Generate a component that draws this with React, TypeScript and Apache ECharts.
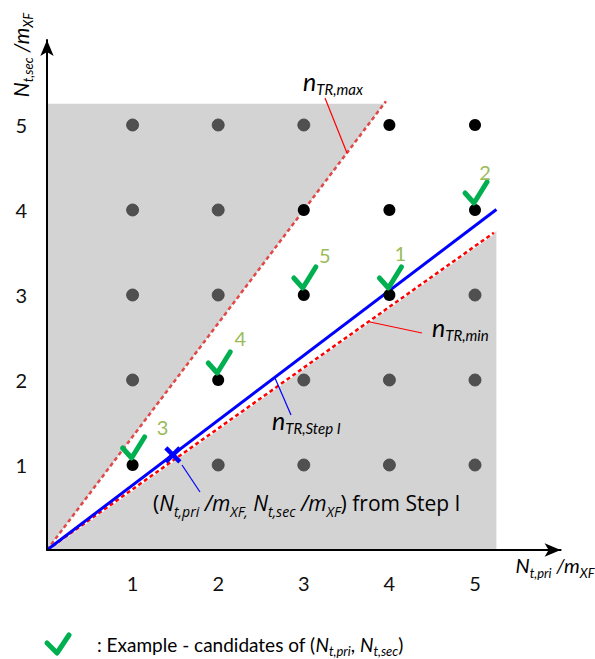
import React, { useEffect, useRef } from "react";
import * as echarts from "echarts";

// ---------- data ----------
const tickValues = [1, 2, 3, 4, 5];
const blackDots = [[1, 1], [2, 2], [3, 3], [4, 3], [3, 4], [4, 4], [5, 4], [4, 5], [5, 5]];
const grayDots = [
  [1, 2], [1, 3], [1, 4], [1, 5], [2, 1], [2, 3], [2, 4], [2, 5],
  [3, 1], [3, 2], [3, 5], [4, 1], [4, 2], [5, 1], [5, 2], [5, 3],
];
const candidateDots = [[4, 3], [5, 4], [1, 1], [2, 2], [3, 3]];
const candidateLabels = ["1", "2", "3", "4", "5"];
const regionLimit = 5.25;
const nTRmax = 4 / 3;
const nTRmin = 0.715;
const nTRstep = 0.763;
const stepIPoint = [1.47, 1.12];

// ---------- layout / style ----------
const FONT = "Lato";
const FONT2 = "Open Sans";
const RED = "#ff0000";
const BLUE = "#0000ff";
const GREEN = "#00b050";
const OLIVE = "#9bbb59";
const checkLabelOffsets = [[11, -42], [10, -38], [30, -38], [22, -42], [21, -40]];

const richFor = (color: string, big: number, small: number, family = FONT, lh = 26, sh = 10) => ({
  b: { fontSize: big, fontStyle: "italic", color, fontFamily: family, lineHeight: lh },
  s: { fontSize: small, fontStyle: "italic", color, fontFamily: family, verticalAlign: "bottom", height: sh },
  r: { fontSize: big, color, fontFamily: family, lineHeight: lh },
});

export default function App() {
  const ref = useRef<HTMLDivElement>(null);
  useEffect(() => {
    if (!ref.current) return;
    const chart = echarts.init(ref.current, undefined, { renderer: "svg" });
    const axisCommon = {
      type: "value" as const,
      min: 0,
      max: 6,
      interval: 1,
      z: 10,
      splitLine: { show: false },
      axisTick: { show: false },
      axisLine: {
        show: true,
        symbol: ["none", "arrow"],
        symbolSize: [10, 16],
        lineStyle: { color: "#000", width: 2 },
      },
    };
    const fmt = (v: number) => (tickValues.indexOf(v) >= 0 ? String(v) : "");
    chart.setOption({
      animation: false,
      grid: { left: 47, top: 40, width: 513.6, height: 510 },
      xAxis: {
        ...axisCommon,
        axisLabel: { formatter: fmt, fontSize: 20, color: "#111", fontFamily: FONT, margin: 23 },
      },
      yAxis: {
        ...axisCommon,
        axisLabel: { formatter: fmt, fontSize: 20, color: "#111", fontFamily: FONT, margin: 20 },
      },
      series: [
        {
          type: "custom",
          silent: true,
          z: 1,
          data: [[0, 0]],
          renderItem: (_p: any, api: any) => {
            const o = api.coord([0, 0]);
            const tl = api.coord([0, regionLimit]);
            const tm = api.coord([regionLimit / nTRmax, regionLimit]);
            const rt = api.coord([regionLimit, regionLimit * nTRmin]);
            const rb = api.coord([regionLimit, 0]);
            return {
              type: "group",
              children: [
                { type: "polygon", shape: { points: [o, tl, tm] }, style: { fill: "#d3d3d3" } },
                { type: "polygon", shape: { points: [o, rt, rb] }, style: { fill: "#d3d3d3" } },
              ],
            };
          },
        },
        {
          type: "line",
          silent: true,
          z: 3,
          symbol: "none",
          data: [[0, 0], [5.28 / nTRmax, 5.28]],
          lineStyle: { color: "#e04848", width: 2.5, type: [4, 3] },
        },
        {
          type: "line",
          silent: true,
          z: 3,
          symbol: "none",
          data: [[0, 0], [5.22, 5.22 * nTRmin]],
          lineStyle: { color: "#ffffff", width: 3 },
        },
        {
          type: "line",
          silent: true,
          z: 4,
          symbol: "none",
          data: [[0, 0], [5.22, 5.22 * nTRmin]],
          lineStyle: { color: RED, width: 2.5, type: [4, 3] },
        },
        {
          type: "line",
          silent: true,
          z: 5,
          symbol: "none",
          data: [[0, 0], [regionLimit, regionLimit * nTRstep]],
          lineStyle: { color: BLUE, width: 3 },
        },
        {
          type: "scatter",
          silent: true,
          z: 6,
          symbolSize: 12,
          itemStyle: { color: "#505050", opacity: 1, borderColor: "#404040", borderWidth: 0.8 },
          data: grayDots,
        },
        {
          type: "scatter",
          silent: true,
          z: 6,
          symbolSize: 12,
          itemStyle: { color: "#000", opacity: 1 },
          data: blackDots,
        },
        {
          type: "custom",
          silent: true,
          z: 7,
          data: [stepIPoint],
          renderItem: (_p: any, api: any) => {
            const p = api.coord([api.value(0), api.value(1)]);
            const d = 7;
            return {
              type: "group",
              children: [
                { type: "line", shape: { x1: p[0] - d, y1: p[1] - d, x2: p[0] + d, y2: p[1] + d }, style: { stroke: BLUE, lineWidth: 4.5 } },
                { type: "line", shape: { x1: p[0] - d, y1: p[1] + d, x2: p[0] + d, y2: p[1] - d }, style: { stroke: BLUE, lineWidth: 4.5 } },
              ],
            };
          },
        },
        {
          type: "custom",
          silent: true,
          z: 8,
          data: candidateDots,
          renderItem: (params: any, api: any) => {
            const p = api.coord([api.value(0), api.value(1)]);
            const off = checkLabelOffsets[params.dataIndex];
            return {
              type: "group",
              children: [
                {
                  type: "polyline",
                  shape: { points: [[p[0] - 10, p[1] - 17], [p[0] - 1, p[1] - 7], [p[0] + 12, p[1] - 28]] },
                  style: { stroke: GREEN, lineWidth: 5, fill: null, lineCap: "round", lineJoin: "round" },
                },
                {
                  type: "text",
                  x: p[0] + off[0],
                  y: p[1] + off[1],
                  style: {
                    text: candidateLabels[params.dataIndex],
                    fill: OLIVE,
                    fontSize: 20,
                    fontFamily: FONT,
                    align: "center",
                    verticalAlign: "middle",
                  },
                },
              ],
            };
          },
        },
      ],
      graphic: [
        // y axis title
        {
          type: "text",
          z: 20,
          x: 20,
          y: 55,
          rotation: Math.PI / 2,
          style: {
            text: "{b|N}{s|t,sec}{b| /m}{s|XF}",
            rich: richFor("#000", 21, 13),
            align: "center",
            verticalAlign: "middle",
          },
        },
        // x axis title
        {
          type: "text",
          z: 20,
          x: 555,
          y: 565,
          style: {
            text: "{b|N}{s|t,pri}{b| /m}{s|XF}",
            rich: richFor("#000", 20, 13),
            align: "center",
            verticalAlign: "middle",
          },
        },
        // n_TR,max
        { type: "line", z: 20, shape: { x1: 325, y1: 98, x2: 347, y2: 153 }, style: { stroke: RED, lineWidth: 1.2 } },
        {
          type: "text",
          z: 20,
          x: 303,
          y: 81,
          style: { text: "{b|n}{s|TR,max}", rich: richFor(RED, 25, 15), align: "left", verticalAlign: "middle" },
        },
        // n_TR,min
        { type: "line", z: 20, shape: { x1: 370, y1: 322, x2: 422, y2: 333 }, style: { stroke: RED, lineWidth: 1.2 } },
        {
          type: "text",
          z: 20,
          x: 432,
          y: 327,
          style: { text: "{b|n}{s|TR,min}", rich: richFor(RED, 25, 15), align: "left", verticalAlign: "middle" },
        },
        // n_TR,Step I
        { type: "line", z: 20, shape: { x1: 275, y1: 378, x2: 291, y2: 415 }, style: { stroke: BLUE, lineWidth: 1.2 } },
        {
          type: "text",
          z: 20,
          x: 272,
          y: 420,
          style: { text: "{b|n}{s|TR,Step I}", rich: richFor(BLUE, 25, 15), align: "left", verticalAlign: "middle" },
        },
        // Step I point
        { type: "line", z: 20, shape: { x1: 182, y1: 465, x2: 200, y2: 492 }, style: { stroke: BLUE, lineWidth: 1.2 } },
        {
          type: "text",
          z: 20,
          x: 153,
          y: 503,
          style: {
            text: "{r|(}{b|N}{s|t,pri}{b| /m}{s|XF,}{b| N}{s|t,sec}{b| /m}{s|XF}{r|) from Step I}",
            rich: richFor(BLUE, 21, 14, FONT2),
            align: "left",
            verticalAlign: "middle",
          },
        },
        // legend
        {
          type: "polyline",
          z: 20,
          shape: { points: [[47, 643], [57, 653], [69, 635]] },
          style: { stroke: GREEN, lineWidth: 5, fill: null, lineCap: "round", lineJoin: "round" },
        },
        {
          type: "text",
          z: 20,
          x: 97,
          y: 644,
          style: {
            text: "{r|: Example - candidates of (}{b|N}{s|t,pri}{r|, }{b|N}{s|t,sec}{r|)}",
            rich: richFor("#111", 19, 13, FONT, 24, 10),
            align: "left",
            verticalAlign: "middle",
          },
        },
      ],
    });
    return () => chart.dispose();
  }, []);
  return (
    <div
      ref={ref}
      style={{ position: "fixed", left: 0, top: 0, width: 595, height: 659, background: "#fff" }}
    />
  );
}
